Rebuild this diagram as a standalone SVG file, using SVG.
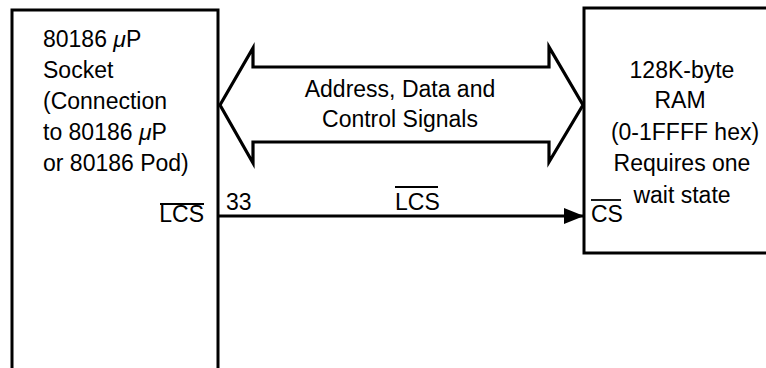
<svg xmlns="http://www.w3.org/2000/svg" width="766" height="368" viewBox="0 0 766 368">
<style>
text{font-family:"Liberation Sans",Arial,sans-serif;font-size:23px;fill:#000}
.box{fill:none;stroke:#000;stroke-width:3}
.bus{fill:#fff;stroke:#000;stroke-width:3.2;stroke-linejoin:miter}
.wire{stroke:#000;stroke-width:2.8;fill:none}
.ov{stroke:#000;stroke-width:1.8}
.c{text-anchor:middle}
</style>
<defs>
<marker id="ah" viewBox="0 0 20 16" refX="20" refY="8" markerWidth="20" markerHeight="16" markerUnits="userSpaceOnUse" orient="auto">
<path d="M0,0 L20,8 L0,16 Z" fill="#000"/>
</marker>
</defs>
<rect width="766" height="368" fill="#fff"/>
<g id="socket">
<path class="box" d="M12,370 V10 H218 V370"/>
<text x="43" y="47">80186 <tspan font-style="italic">μ</tspan>P</text>
<text x="43" y="78">Socket</text>
<text x="43" y="109">(Connection</text>
<text x="43" y="140">to 80186 <tspan font-style="italic">μ</tspan>P</text>
<text x="43" y="171">or 80186 Pod)</text>
<text x="204" y="222" text-anchor="end">LCS</text>
<line class="ov" x1="160" y1="204" x2="204" y2="204"/>
</g>
<g id="ram">
<path class="box" d="M770,8 H584 V253 H770"/>
<text class="c" x="682" y="78">128K-byte</text>
<text class="c" x="680" y="108">RAM</text>
<text class="c" x="685" y="140">(0-1FFFF hex)</text>
<text class="c" x="682" y="171">Requires one</text>
<text class="c" x="682" y="203">wait state</text>
<text x="591" y="222">CS</text>
<line class="ov" x1="591" y1="200" x2="621" y2="200"/>
</g>
<g id="connectors">
<g id="bus">
<polygon class="bus" points="220,105 253,48 253,67 549,67 549,47 583,105 549,162 549,142 253,142 253,163"/>
<text class="c" x="400" y="97">Address, Data and</text>
<text class="c" x="400" y="127">Control Signals</text>
</g>
<g id="lcs-wire">
<line class="wire" x1="219" y1="216" x2="584" y2="216" marker-end="url(#ah)"/>
<text x="226" y="210">33</text>
<text x="395" y="210">LCS</text>
<line class="ov" x1="395" y1="187" x2="438" y2="187"/>
</g>
</g>
</svg>
